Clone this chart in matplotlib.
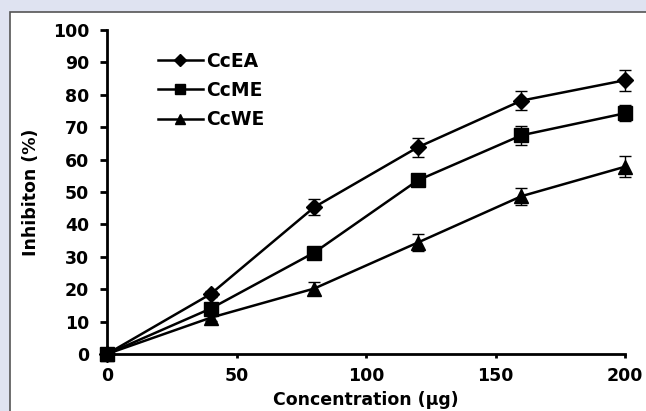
import matplotlib.pyplot as plt
from matplotlib.patches import Rectangle

# data
conc = [0, 40, 80, 120, 160, 200]  # concentration (ug)
ccea = [0, 18.5, 45.3, 63.8, 78.2, 84.5]
ccea_err = [0, 1.0, 2.5, 3.0, 3.0, 3.3]
ccme = [0, 14.0, 31.3, 53.6, 67.5, 74.3]
ccme_err = [0, 1.0, 1.2, 1.5, 3.0, 2.5]
ccwe = [0, 11.2, 20.2, 34.4, 48.7, 57.8]
ccwe_err = [0, 1.0, 2.0, 2.6, 2.6, 3.2]

plt.rcParams['font.family'] = ['DejaVu Sans']
plt.rcParams['font.weight'] = 'bold'

fig = plt.figure(figsize=(6.46, 4.11), dpi=100)
fig.patch.set_facecolor('#dfe3f1')

# white panel with a thin border, behind the axes
panel = Rectangle((10 / 646, -0.05), 1.0, 1 - 12 / 411 + 0.05,
                  transform=fig.transFigure, facecolor='white',
                  edgecolor='#555555', linewidth=1.2, zorder=-10)
fig.patches.append(panel)

ax = fig.add_axes([107 / 646, 57 / 411, 518 / 646, 324 / 411])
ax.set_facecolor('none')

series = [
    ("CcEA", ccea, ccea_err, "D", 8),
    ("CcME", ccme, ccme_err, "s", 10),
    ("CcWE", ccwe, ccwe_err, "^", 10),
]
handles = []
for name, vals, err, mk, ms in series:
    c = ax.errorbar(conc, vals, yerr=err, fmt='-' + mk, color='black',
                    markersize=ms, linewidth=1.8, elinewidth=1.0,
                    capsize=4, capthick=1.0, label=name, clip_on=False)
    for art in c.get_children():
        art.set_clip_on(False)
    handles.append(c[0])

ax.set_xlim(0, 200)
ax.set_ylim(0, 100)
ax.set_xticks([0, 50, 100, 150, 200])
ax.set_yticks(range(0, 101, 10))
ax.spines['top'].set_visible(False)
ax.spines['right'].set_visible(False)
ax.spines['left'].set_linewidth(2)
ax.spines['bottom'].set_linewidth(2)
ax.tick_params(axis='y', width=2, length=5, labelsize=12.5, pad=8)
ax.tick_params(axis='x', width=2, length=3, labelsize=12.5, pad=6)
for lab in ax.get_xticklabels() + ax.get_yticklabels():
    lab.set_fontweight('bold')

ax.set_xlabel("Concentration (µg)", fontsize=12.5, fontweight='bold', labelpad=5)
ax.set_ylabel("Inhibiton (%)", fontsize=12.5, fontweight='bold', labelpad=9)

ax.legend(handles, [s[0] for s in series], loc='upper left',
          bbox_to_anchor=(0.065, 0.985), frameon=False, handlelength=2.4,
          handletextpad=0.2, labelspacing=0.55, markerscale=0.75,
          prop={'size': 13.5, 'weight': 'bold'})

fig.savefig('out.png', dpi=100, facecolor=fig.get_facecolor())
